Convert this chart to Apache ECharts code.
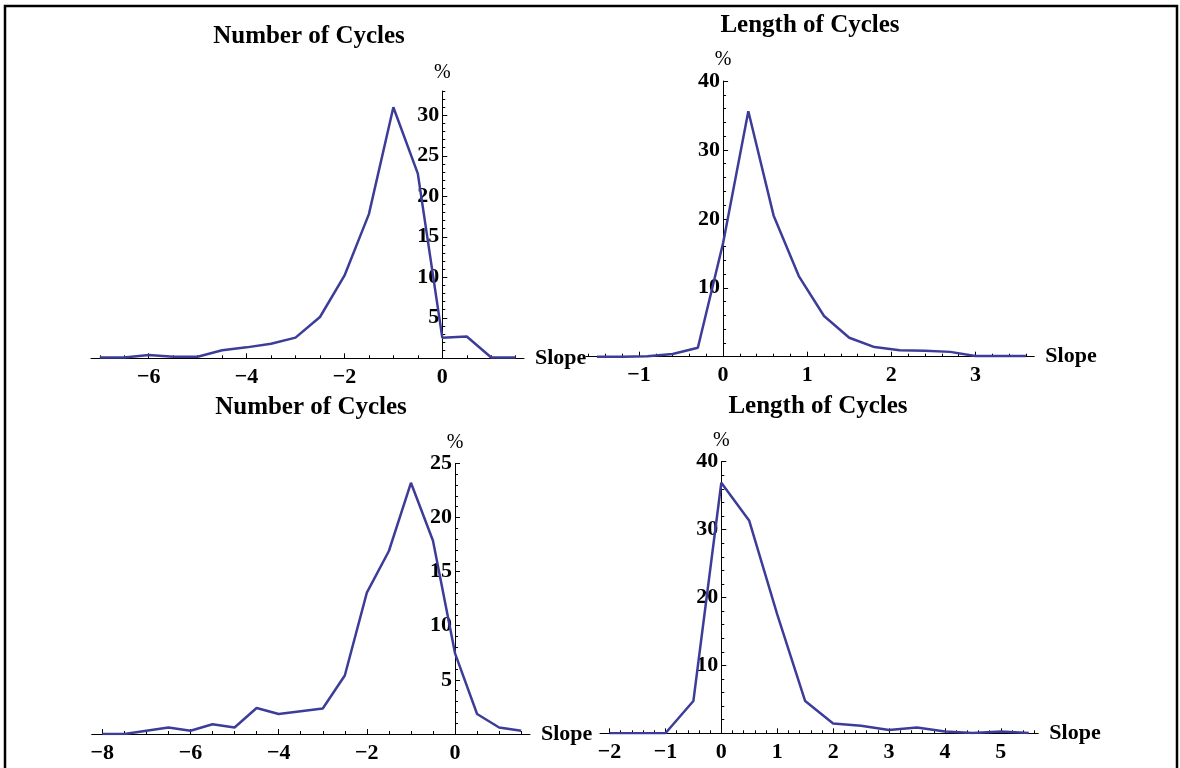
<!DOCTYPE html>
<html>
<head>
<meta charset="utf-8">
<script src="https://cdn.jsdelivr.net/npm/echarts@6/dist/echarts.min.js"></script>
<style>html,body{margin:0;padding:0;background:#fff}#c{width:1180px;height:768px}</style>
</head>
<body>
<div id="c"></div>
<script>
// ---------- DATA ----------
const titles = ['Number of Cycles', 'Length of Cycles', 'Number of Cycles', 'Length of Cycles'];
const xName = 'Slope';
const yName = '%';

const p1X = [-7, -6.5, -6, -5.5, -5, -4.5, -4, -3.5, -3, -2.5, -2, -1.5, -1, -0.5, 0, 0.5, 1, 1.5];
const p1Y = [0.1, 0.1, 0.4, 0.2, 0.2, 1.0, 1.35, 1.8, 2.55, 5.1, 10.2, 17.8, 31.0, 22.8, 2.55, 2.7, 0.1, 0.1];

const p2X = [-1.5, -1.2, -0.9, -0.6, -0.3, 0, 0.3, 0.6, 0.9, 1.2, 1.5, 1.8, 2.1, 2.4, 2.7, 3.0, 3.3, 3.6];
const p2Y = [0, 0, 0.05, 0.4, 1.3, 16.5, 35.6, 20.5, 11.7, 5.9, 2.75, 1.4, 0.95, 0.85, 0.7, 0.1, 0.1, 0.1];

const p3X = [-8, -7.5, -7, -6.5, -6, -5.5, -5, -4.5, -4, -3.5, -3, -2.5, -2, -1.5, -1, -0.5, 0, 0.5, 1, 1.5];
const p3Y = [0, 0, 0.3, 0.6, 0.3, 0.9, 0.6, 2.4, 1.85, 2.1, 2.35, 5.4, 13.05, 16.9, 23.2, 17.85, 7.45, 1.85, 0.6, 0.3];

const p4X = [-2, -1.5, -1, -0.5, 0, 0.5, 1, 1.5, 2, 2.5, 3, 3.5, 4, 4.5, 5, 5.5];
const p4Y = [0, 0, 0, 4.75, 36.9, 31.3, 17.5, 4.75, 1.45, 1.1, 0.5, 0.85, 0.25, 0.05, 0.25, 0.05];

// tick labels (major) and minor tick steps
const p1XTicks = [-6, -4, -2, 0];
const p1YTicks = [5, 10, 15, 20, 25, 30];
const p2XTicks = [-1, 0, 1, 2, 3];
const p2YTicks = [10, 20, 30, 40];
const p3XTicks = [-8, -6, -4, -2, 0];
const p3YTicks = [5, 10, 15, 20, 25];
const p4XTicks = [-2, -1, 0, 1, 2, 3, 4, 5];
const p4YTicks = [10, 20, 30, 40];

// ---------- LAYOUT ----------
const panels = [
  {xs: p1X, ys: p1Y, xt: p1XTicks, yt: p1YTicks, xMinorStep: 0.5, yMinorStep: 1,
   left: 91, top: 91, width: 433, height: 267.3, xMin: -7.18, xMax: 1.67, yMax: 33,
   title: titles[0], tx: 309, ty: 37},
  {xs: p2X, ys: p2Y, xt: p2XTicks, yt: p2YTicks, xMinorStep: 0.2, yMinorStep: 2,
   left: 586, top: 81, width: 448.3, height: 275.7, xMin: -1.63, xMax: 3.70, yMax: 40,
   title: titles[1], tx: 810, ty: 26},
  {xs: p3X, ys: p3Y, xt: p3XTicks, yt: p3YTicks, xMinorStep: 0.5, yMinorStep: 1,
   left: 91.7, top: 463.3, width: 438.3, height: 270.7, xMin: -8.24, xMax: 1.70, yMax: 25,
   title: titles[2], tx: 311, ty: 408},
  {xs: p4X, ys: p4Y, xt: p4XTicks, yt: p4YTicks, xMinorStep: 0.2, yMinorStep: 2,
   left: 600, top: 461.7, width: 438.3, height: 271.6, xMin: -2.17, xMax: 5.67, yMax: 40,
   title: titles[3], tx: 818, ty: 407}
];

const FONT = '"Liberation Serif", "Times New Roman", serif';
const LINE_COLOR = '#3d3d99';

function minorVals(min, max, step, majors) {
  const out = [];
  const start = Math.ceil(min / step - 1e-9);
  const end = Math.floor(max / step + 1e-9);
  for (let k = start; k <= end; k++) {
    const v = +(k * step).toFixed(6);
    if (majors.some(m => Math.abs(m - v) < 1e-6)) continue;
    if (v === 0) continue;
    out.push(v);
  }
  return out;
}

const grid = [], xAxis = [], yAxis = [], series = [], graphic = [];
const axisLineStyle = {color: '#000', width: 1};
const labelStyle = {color: '#000', fontFamily: FONT, fontWeight: 'bold', fontSize: 22};

panels.forEach((p, i) => {
  const g = {left: p.left, top: p.top, width: p.width, height: p.height, containLabel: false};
  grid.push(Object.assign({}, g), Object.assign({}, g));
  const gi = 2 * i, go = 2 * i + 1;
  // horizontal shift of the y axis so it sits at x = 0
  const yOff = -((0 - p.xMin) / (p.xMax - p.xMin)) * p.width;
  // main axes
  xAxis.push({
    gridIndex: gi, type: 'value', min: p.xMin, max: p.xMax,
    axisLine: {onZero: false, lineStyle: axisLineStyle},
    axisTick: {inside: true, length: 5, customValues: p.xt, lineStyle: axisLineStyle},
    axisLabel: {customValues: p.xt, margin: 8, ...labelStyle,
      formatter: v => String(v).replace('-', '\u2212')},
    splitLine: {show: false},
    name: xName, nameLocation: 'end', nameGap: 11,
    nameTextStyle: {color: '#000', fontFamily: FONT, fontWeight: 'bold', fontSize: 22, verticalAlign: 'middle'}
  });
  yAxis.push({
    gridIndex: gi, type: 'value', min: 0, max: p.yMax, offset: yOff,
    axisLine: {onZero: false, lineStyle: axisLineStyle},
    axisTick: {inside: true, length: 5, customValues: p.yt, lineStyle: axisLineStyle},
    axisLabel: {customValues: p.yt, margin: 3, ...labelStyle},
    splitLine: {show: false},
    name: yName, nameLocation: 'end', nameGap: 8,
    nameTextStyle: {color: '#000', fontFamily: FONT, fontSize: 20}
  });
  // overlay axes for minor ticks
  xAxis.push({
    gridIndex: go, type: 'value', min: p.xMin, max: p.xMax,
    axisLine: {onZero: false, lineStyle: {color: 'rgba(0,0,0,0)', width: 0}},
    axisTick: {inside: true, length: 3, customValues: minorVals(p.xMin, p.xMax, p.xMinorStep, p.xt), lineStyle: axisLineStyle},
    axisLabel: {show: false}, splitLine: {show: false}
  });
  yAxis.push({
    gridIndex: go, type: 'value', min: 0, max: p.yMax, offset: yOff,
    axisLine: {onZero: false, lineStyle: {color: 'rgba(0,0,0,0)', width: 0}},
    axisTick: {inside: true, length: 3, customValues: minorVals(0, p.yMax, p.yMinorStep, p.yt), lineStyle: axisLineStyle},
    axisLabel: {show: false}, splitLine: {show: false}
  });
  series.push({
    type: 'line', xAxisIndex: gi, yAxisIndex: gi,
    data: p.xs.map((x, k) => [x, p.ys[k]]),
    symbol: 'none', smooth: false,
    lineStyle: {color: LINE_COLOR, width: 2.5}
  });
  graphic.push({
    type: 'text', x: p.tx, y: p.ty,
    style: {text: p.title, fill: '#000', font: 'bold 25px ' + FONT, textAlign: 'center', textVerticalAlign: 'middle'}
  });
});

graphic.push({
  type: 'rect', shape: {x: 5, y: 6, width: 1172, height: 800},
  style: {fill: 'none', stroke: '#000', lineWidth: 2.5}, silent: true
});

const chart = echarts.init(document.getElementById('c'), null, {renderer: 'canvas'});
chart.setOption({
  animation: false,
  backgroundColor: '#fff',
  grid, xAxis, yAxis, series, graphic
});
</script>
</body>
</html>
